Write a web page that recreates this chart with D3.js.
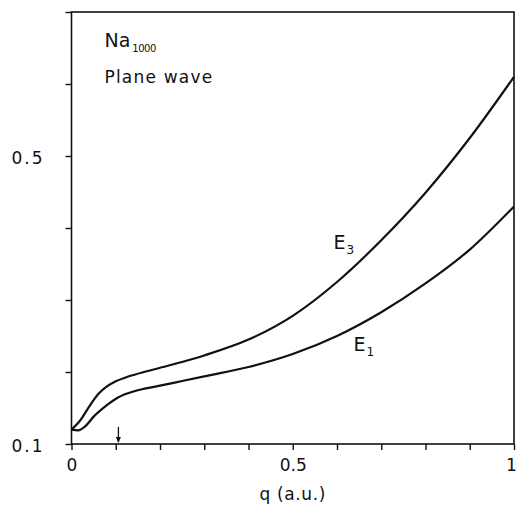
<!DOCTYPE html>
<html>
<head>
<meta charset="utf-8">
<script src="https://cdn.jsdelivr.net/npm/d3@7"></script>
<style>
  body { margin: 0; background: #fff; }
  text { font-family: "DejaVu Sans", sans-serif; fill: #111; }
  .frame { fill: none; stroke: #111; stroke-width: 1.6; }
  .curve { fill: none; stroke: #111; stroke-width: 2.2; }
  .tick line { stroke: #111; stroke-width: 1.4; }
</style>
</head>
<body>
<svg id="chart" width="517" height="506"></svg>
<script>
// values (q in a.u., energy)
const qE3 = [0, 0.02, 0.04, 0.06, 0.08, 0.1, 0.13, 0.17, 0.22, 0.3, 0.4, 0.5, 0.6, 0.7, 0.8, 0.9, 1.0];
const vE3 = [0.120, 0.133, 0.152, 0.169, 0.180, 0.187, 0.194, 0.201, 0.209, 0.223, 0.245, 0.278, 0.325, 0.383, 0.449, 0.525, 0.610];
const qE1 = [0, 0.015, 0.03, 0.05, 0.08, 0.106, 0.14, 0.2, 0.25, 0.3, 0.4, 0.5, 0.6, 0.7, 0.8, 0.9, 1.0];
const vE1 = [0.120, 0.119, 0.124, 0.138, 0.154, 0.165, 0.173, 0.181, 0.1875, 0.194, 0.207, 0.225, 0.250, 0.283, 0.323, 0.370, 0.430];
const xTicks = [0, 0.1, 0.2, 0.3, 0.4, 0.5, 0.6, 0.7, 0.8, 0.9, 1];
const xLabels = [0, 0.5, 1];
const yTicks = [0.1, 0.2, 0.3, 0.4, 0.5, 0.6, 0.7];
const yLabels = [0.1, 0.5];
const arrowQ = 0.106;

const margin = {left: 71.5, top: 12, right: 3, bottom: 62};
const width = 517 - margin.left - margin.right;
const height = 506 - margin.top - margin.bottom;

let svg = d3.select("#chart");
let g = svg.append("g").attr("transform", `translate(${margin.left},${margin.top})`);

let x = d3.scaleLinear().domain([0, 1]).range([0, width]);
let y = d3.scaleLinear().domain([0.1, 0.7]).range([height, 0]);

// frame
g.append("rect").classed("frame", true)
    .attr("width", width).attr("height", height);

// x axis ticks (outward), only some labelled
let xAxis = g.append("g").attr("transform", `translate(0,${height})`)
    .call(d3.axisBottom(x).tickValues(xTicks).tickSizeOuter(0).tickSize(6)
        .tickFormat(d => xLabels.includes(d) ? d3.format("")(d) : ""));
xAxis.select(".domain").remove();
xAxis.selectAll("text").attr("font-size", 17).attr("dy", "1.05em").style("font-family", "DejaVu Sans")
    .attr("dx", d => d === 1 ? -3 : 0);

let yAxis = g.append("g")
    .call(d3.axisLeft(y).tickValues(yTicks).tickSizeOuter(0).tickSize(6)
        .tickFormat(d => yLabels.includes(d) ? d3.format(".1f")(d) : ""));
yAxis.select(".domain").remove();
yAxis.selectAll("text").attr("font-size", 17).attr("x", -27).attr("dy", "0.45em")
    .attr("letter-spacing", 2).style("font-family", "DejaVu Sans");

// axis title
g.append("text").attr("x", x(0.5)).attr("y", height + 56)
    .attr("text-anchor", "middle").attr("font-size", 17).attr("letter-spacing", 0.6)
    .text("q (a.u.)");

// curves
let line = d3.line()
    .x(d => x(d[0])).y(d => y(d[1]))
    .curve(d3.curveMonotoneX);
g.append("path").classed("curve", true).attr("d", line(d3.zip(qE3, vE3)));
g.append("path").classed("curve", true).attr("d", line(d3.zip(qE1, vE1)));

// arrow at the marked q
let ax = x(arrowQ);
g.append("line").attr("x1", ax).attr("x2", ax).attr("y1", height - 17).attr("y2", height - 2)
    .attr("stroke", "#111").attr("stroke-width", 1.3);
g.append("path").attr("d", `M${ax - 2.5},${height - 7} L${ax + 2.5},${height - 7} L${ax},${height - 1} Z`)
    .attr("fill", "#111");

// curve labels
let e3 = g.append("text").attr("x", 262).attr("y", 237).attr("font-size", 19);
e3.append("tspan").text("E");
e3.append("tspan").attr("font-size", 12).attr("dy", 5).attr("dx", 1).text("3");
let e1 = g.append("text").attr("x", 282).attr("y", 339).attr("font-size", 19);
e1.append("tspan").text("E");
e1.append("tspan").attr("font-size", 12).attr("dy", 5).attr("dx", 1).text("1");

// title
let na = g.append("text").attr("x", 33).attr("y", 35).attr("font-size", 19);
na.append("tspan").text("Na");
na.append("tspan").attr("font-size", 10).attr("dy", 5).attr("dx", 2).attr("letter-spacing", -0.5).text("1000");
g.append("text").attr("x", 33).attr("y", 71).attr("font-size", 17).attr("letter-spacing", 1.2)
    .text("Plane wave");
</script>
</body>
</html>
